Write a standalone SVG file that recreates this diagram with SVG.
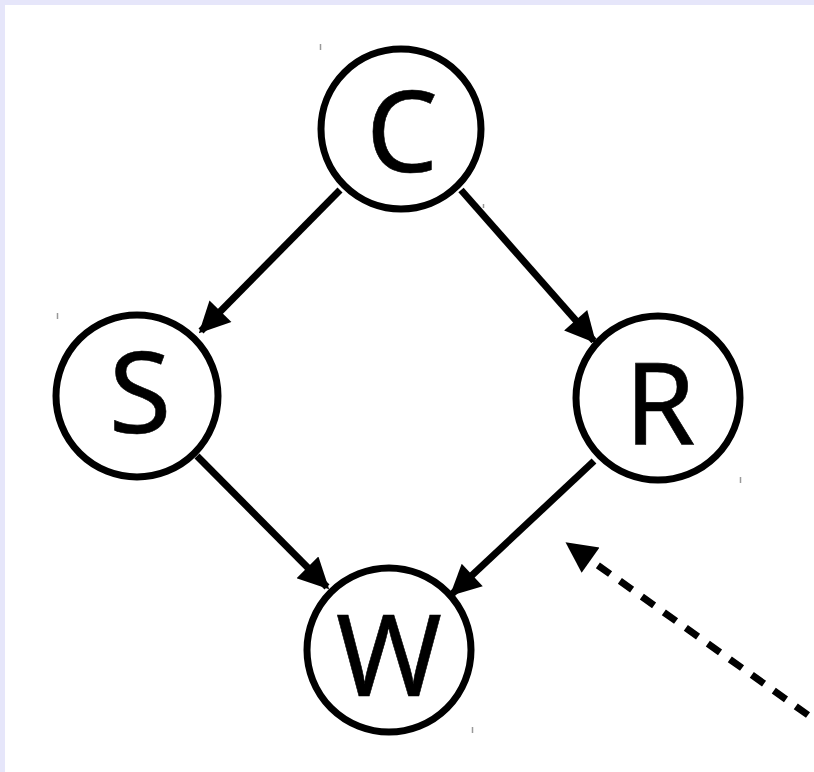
<svg xmlns="http://www.w3.org/2000/svg" width="814" height="772" viewBox="0 0 814 772">
  <style>
    .node circle { fill: #ffffff; stroke: #000000; stroke-width: 7; }
    .node text { font-family: "Noto Sans", "Open Sans", sans-serif; font-size: 114px; fill: #000000; stroke: #000000; stroke-width: 0.6; text-anchor: middle; }
    .edge { stroke: #000000; stroke-width: 7; fill: none; marker-end: url(#head); }
    .dashed { stroke-dasharray: 15 12; }
    .tick { stroke: #999999; stroke-width: 1.5; }
  </style>
  <defs>
    <marker id="head" viewBox="0 0 10 10" refX="9" refY="5" markerWidth="5.4" markerHeight="4.4" markerUnits="strokeWidth" orient="auto">
      <path d="M0,0 L10,5 L0,10 z" fill="#000000"/>
    </marker>
  </defs>

  <!-- page background with lavender frame -->
  <rect x="0" y="0" width="814" height="772" fill="#e6e6fa"/>
  <rect x="5" y="5" width="809" height="767" fill="#ffffff"/>

  <!-- small registration ticks -->
  <g id="ticks">
    <line class="tick" x1="320.5" y1="44" x2="320.5" y2="50"/>
    <line class="tick" x1="57.5" y1="313" x2="57.5" y2="319"/>
    <line class="tick" x1="740.5" y1="477" x2="740.5" y2="483"/>
    <line class="tick" x1="472.5" y1="727" x2="472.5" y2="733"/>
    <line class="tick" x1="483.5" y1="204" x2="483.5" y2="208"/>
  </g>

  <g id="edges">
    <line class="edge" x1="340" y1="190" x2="201" y2="331"/>
    <line class="edge" x1="461" y1="190" x2="594" y2="341"/>
    <line class="edge" x1="197" y1="456" x2="327" y2="587"/>
    <line class="edge" x1="594" y1="461" x2="452" y2="594"/>
    <line class="edge dashed" x1="808" y1="715" x2="568" y2="544"/>
  </g>

  <g id="node-C" class="node">
    <circle cx="401" cy="129" r="80"/>
    <text x="402" y="172">C</text>
  </g>
  <g id="node-S" class="node">
    <circle cx="137" cy="396" r="81"/>
    <text x="140" y="433">S</text>
  </g>
  <g id="node-R" class="node">
    <circle cx="658" cy="398" r="82"/>
    <text x="660" y="445">R</text>
  </g>
  <g id="node-W" class="node">
    <circle cx="389" cy="650" r="82"/>
    <text x="389" y="696">W</text>
  </g>
</svg>
